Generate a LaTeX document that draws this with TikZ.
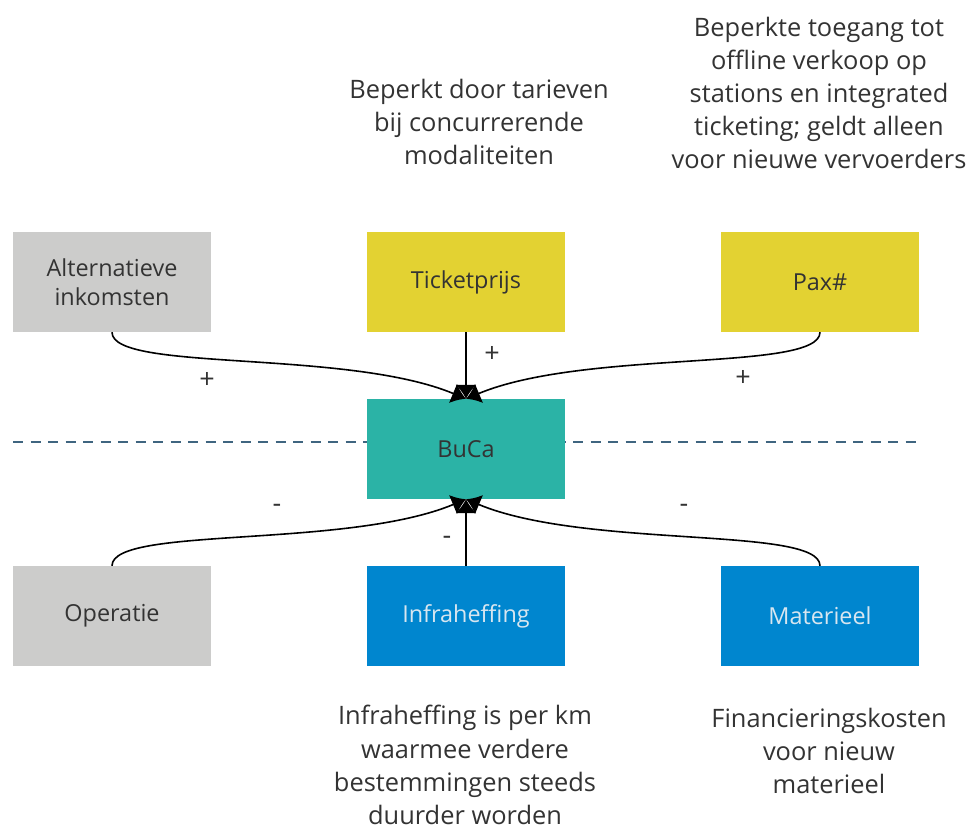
\documentclass[tikz,border=0pt]{standalone}
\usepackage{fontspec}
\setmainfont{Open Sans}
\usetikzlibrary{arrows.meta}
\definecolor{boxgray}{HTML}{CCCCCB}
\definecolor{boxyellow}{HTML}{E3D232}
\definecolor{boxteal}{HTML}{2BB3A6}
\definecolor{boxblue}{HTML}{0086CF}
\definecolor{txtdark}{HTML}{333333}
\definecolor{txtlight}{HTML}{D8E6F0}
\definecolor{splitline}{HTML}{3F6580}
\tikzset{
	factor/.style={minimum width=198bp, minimum height=100bp, inner sep=0pt, align=center,
		text=txtdark, font=\fontsize{23.5}{29}\selectfont},
	note/.style={align=center, inner sep=0pt, text=txtdark, font=\fontsize{25.5}{33.3}\selectfont},
	sign/.style={text=txtdark, font=\fontsize{27}{30}\selectfont},
	link/.style={line width=1.6bp, -{Latex[length=14bp,width=21bp]}}
}

\begin{document}
\begin{tikzpicture}[x=1bp, y=-1bp]
	\useasboundingbox (0,0) rectangle (971,827);
	
	\draw[splitline, line width=1.6bp, dash pattern=on 10bp off 7.5bp] (13,442) -- (919,442);
	
	\node[factor, fill=boxgray] (alt) at (112,282) {Alternatieve\\inkomsten};
	\node[factor, fill=boxyellow] (ticket) at (466,282) {Ticketprijs};
	\node[factor, fill=boxyellow] (pax) at (820,282) {Pax\#};
	\node[factor, fill=boxteal] (buca) at (466,449) {BuCa};
	\node[factor, fill=boxgray] (oper) at (112,616) {Operatie};
	\node[factor, fill=boxblue, text=txtlight] (infra) at (466,616) {Infraheffing};
	\node[factor, fill=boxblue, text=txtlight] (mat) at (820,616) {Materieel};
	
	\node[note] (ticketnote) at (479,122) {Beperkt door tarieven\\bij concurrerende\\modaliteiten};
	\node[note] (paxnote) at (819,93) {Beperkte toegang tot\\offline verkoop op\\stations en integrated\\ticketing; geldt alleen\\voor nieuwe vervoerders};
	\node[note] (infranote) at (465,765) {Infraheffing is per km\\waarmee verdere\\bestemmingen steeds\\duurder worden};
	\node[note] (matnote) at (829,751) {Financieringskosten\\voor nieuw\\materieel};
	
	\draw[link] (alt.south) .. controls +(0,40) and +(-120,-50) .. (buca.north);
	\draw[link] (ticket.south) .. controls +(0,25) and +(0,-25) .. (buca.north);
	\draw[link] (pax.south) .. controls +(0,40) and +(120,-50) .. (buca.north);
	\draw[link] (oper.north) .. controls +(0,-40) and +(-120,50) .. (buca.south);
	\draw[link] (infra.north) .. controls +(0,-25) and +(0,25) .. (buca.south);
	\draw[link] (mat.north) .. controls +(0,-40) and +(120,50) .. (buca.south);
	
	\node[sign] (altsign) at (207,380) {+};
	\node[sign] (ticketsign) at (492,354) {+};
	\node[sign] (paxsign) at (743,378) {+};
	\node[sign] (opersign) at (277,508) {-};
	\node[sign] (infrasign) at (447,540) {-};
	\node[sign] (matsign) at (684,508) {-};
\end{tikzpicture}
\end{document}
